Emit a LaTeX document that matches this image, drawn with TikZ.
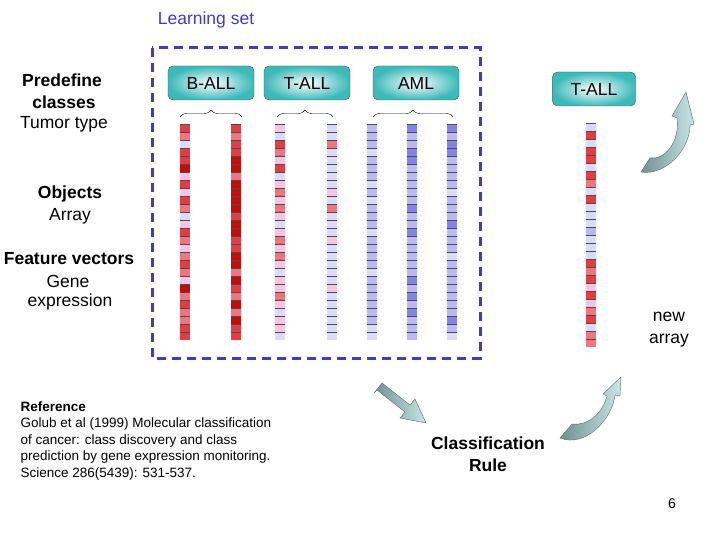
\documentclass[tikz,border=0pt]{standalone}
\usepackage{fontspec}
\setmainfont{Liberation Sans}
\usetikzlibrary{decorations.pathreplacing,calc}
\definecolor{rA}{RGB}{200,10,10}
\definecolor{rB}{RGB}{230,60,65}
\definecolor{rC}{RGB}{245,115,125}
\definecolor{pk}{RGB}{250,195,225}
\definecolor{lb}{RGB}{218,218,250}
\definecolor{mb}{RGB}{185,185,245}
\definecolor{db}{RGB}{130,130,235}
\definecolor{dashb}{RGB}{60,60,200}
\definecolor{tealA}{RGB}{60,185,185}
\definecolor{arrA}{RGB}{200,230,230}
\definecolor{arrB}{RGB}{110,145,145}
\tikzset{
 lab/.style={draw=black!70,rounded corners=5pt,inner color=white,outer color=tealA,minimum width=86pt,minimum height=34pt,font=\fontsize{17.5}{20}\selectfont},
 txt/.style={font=\fontsize{17.5}{22}\selectfont,align=center},
 btxt/.style={font=\fontsize{17.5}{22}\selectfont\bfseries,align=center},
 brc/.style={decorate,decoration={brace,amplitude=7pt},thin},
 blk/.style={draw=black!60,thin,left color=arrB,right color=arrA}
}
\newcommand{\strip}[3]{% x, top, colours
 \foreach \c [count=\i from 0] in {#3}{
  \fill[\c] ($(#1-5,#2+\i*8)$) rectangle ($(#1+5,#2+\i*8+8)$);
  \draw[black!70,thin] ($(#1-5,#2+\i*8)$) -- ($(#1+5,#2+\i*8)$);
 }}
\begin{document}
\begin{tikzpicture}[x=1pt,y=-1pt]
\useasboundingbox (0,0) rectangle (720,540);
\node[txt,text=dashb] (ls) at (206,20) {Learning set};
\draw[dashb,line width=3pt,dash pattern=on 9pt off 6pt] (152,48) rectangle (480,358);
\node[btxt] (pc) at (62,80) {Predefine};
\node[btxt] (cl) at (64,102) {classes};
\node[txt] (tt) at (64,124) {Tumor type};
\node[btxt] (ob) at (70,194) {Objects};
\node[txt] (ar) at (70,216) {Array};
\node[btxt] (fv) at (69,259) {Feature vectors};
\node[txt] (ge) at (68,281) {Gene};
\node[txt] (ex) at (70,302) {expression};
\node[lab] (b) at (211,83) {B-ALL};
\node[lab] (t) at (307,83) {T-ALL};
\node[lab] (a) at (416,83) {AML};
\node[lab,minimum width=83pt] (t2) at (594,89) {T-ALL};
\coordinate (b1) at (180,117); \coordinate (b2) at (242,117);
\coordinate (t1) at (277,117); \coordinate (t2b) at (333,117);
\coordinate (a1) at (373,117); \coordinate (a2) at (453,117);
\draw[brc] (b1) -- (b2); \draw[brc] (t1) -- (t2b); \draw[brc] (a1) -- (a2);
\strip{185}{124}{rB,rC,lb,rB,rB,rA,pk,rB,pk,rB,rC,lb,pk,rB,rC,pk,rC,rB,rC,pk,rA,rC,rB,rC,rC,rB,rB}
\strip{236}{124}{rB,rC,rB,rB,rA,rA,rC,rA,rA,rA,rA,rB,rA,rA,rB,rB,rA,rA,rC,rA,rB,rC,rA,rC,rA,rB,rB}
\strip{280}{124}{pk,lb,rB,rC,pk,rB,lb,pk,rC,pk,rC,pk,lb,pk,rC,pk,rC,pk,lb,pk,pk,rC,pk,lb,pk,pk,lb}
\strip{332}{124}{lb,lb,rC,lb,lb,lb,lb,lb,pk,lb,rC,lb,lb,lb,pk,lb,lb,lb,lb,lb,pk,lb,lb,lb,lb,lb,lb}
\strip{372}{124}{mb,mb,mb,lb,mb,mb,mb,lb,mb,lb,mb,mb,mb,lb,mb,mb,mb,mb,lb,mb,mb,mb,mb,mb,mb,lb,lb}
\strip{412}{124}{db,mb,mb,db,db,mb,mb,mb,mb,mb,db,mb,mb,db,mb,mb,mb,mb,mb,db,mb,db,mb,db,mb,mb,mb}
\strip{452}{124}{db,mb,db,db,mb,mb,mb,mb,lb,mb,mb,mb,db,mb,mb,mb,lb,mb,mb,mb,mb,mb,mb,mb,db,mb,lb}
\strip{591}{123}{lb,rB,lb,rB,rB,lb,rB,rC,lb,rB,lb,lb,lb,mb,lb,lb,lb,rB,rC,rB,pk,rB,pk,rC,rB,lb,rC,rC}
\node[txt] (na) at (669,330) {new\\array};
\node[btxt] (cr) at (488,454) {Classification\\Rule};
\node[font=\fontsize{13.5}{16.5}\selectfont,align=left,anchor=north west] (ref) at (17,398) {\textbf{Reference}\\Golub et al (1999) Molecular classification\\of cancer: class discovery and class\\prediction by gene expression monitoring.\\Science 286(5439): 531-537.};
\node[font=\fontsize{14}{16}\selectfont] (pg) at (672,504) {6};
% curved arrows
\draw[blk] (641,172) .. controls (665,176) and (690,150) .. (690,125)
 -- (694,124) -- (686,92) -- (672,116) -- (677,118)
 .. controls (680,142) and (665,160) .. (650,158) -- cycle;
\draw[blk] (560,438) .. controls (585,448) and (612,420) .. (615,395)
 -- (620,396) -- (621,377) -- (603,394) -- (607,396)
 .. controls (602,414) and (588,426) .. (572,424) -- cycle;
% straight block arrow
\draw[blk] (374,393) -- (382,383) -- (410,405) -- (415,399) -- (426,423) -- (400,418) -- (405,412) -- (377,390) -- cycle;
\end{tikzpicture}
\end{document}
